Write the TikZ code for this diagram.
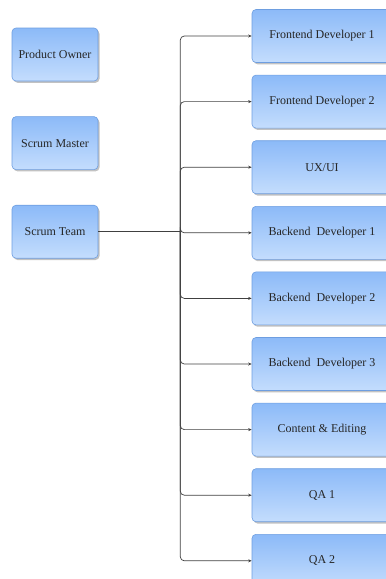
\documentclass[tikz,border=0pt]{standalone}
\usepackage{fontspec}
\setmainfont{Liberation Serif}
\usetikzlibrary{positioning,arrows.meta,shadows}
\definecolor{RoleTop}{HTML}{8CBAF8}
\definecolor{RoleBottom}{HTML}{C4DDFD}
\definecolor{RoleEdge}{HTML}{6E9EE0}
\definecolor{LinkGray}{HTML}{404040}

\begin{document}
\begin{tikzpicture}[
  x=1pt, y=1pt,
  node distance=12pt,
  role/.style={draw=RoleEdge, line width=0.6pt, rounded corners=4pt, top color=RoleTop, bottom color=RoleBottom, minimum height=53pt, font=\fontsize{12}{14}\selectfont, text=black!85, drop shadow={shadow xshift=1.5pt, shadow yshift=-1.8pt, opacity=0.4, fill=black!60}},
  lead/.style={role, minimum width=86pt},
  member/.style={role, minimum width=140pt},
  trunk/.style={line width=0.7pt, LinkGray, rounded corners=4pt},
  link/.style={trunk, -{Stealth[length=3.5pt,width=3pt]}}
]
\useasboundingbox (0,0) rectangle (386,-579);
% roles on the left
\node[lead] (owner) at (55,-54.5) {Product Owner};
\node[lead, below=35pt of owner] (master) {Scrum Master};
\node[lead, below=35pt of master] (team) {Scrum Team};
% team members on the right
\node[member] (fe1) at (322,-36) {Frontend Developer 1};
\node[member, below=of fe1] (fe2) {Frontend Developer 2};
\node[member, below=of fe2] (ux) {UX/UI};
\node[member, below=of ux] (be1) {Backend\ \ Developer 1};
\node[member, below=of be1] (be2) {Backend\ \ Developer 2};
\node[member, below=of be2] (be3) {Backend\ \ Developer 3};
\node[member, below=of be3] (content) {Content \& Editing};
\node[member, below=of content] (qa1) {QA 1};
\node[member, below=of qa1] (qa2) {QA 2};
% fork from the team
\coordinate[right=82pt of team.east] (fork);
\draw[trunk] (team.east) -- (fork);
\foreach \m in {fe1,fe2,ux,be1,be2,be3,content,qa1,qa2}
  \draw[link] (fork) |- (\m.west);
\end{tikzpicture}
\end{document}
